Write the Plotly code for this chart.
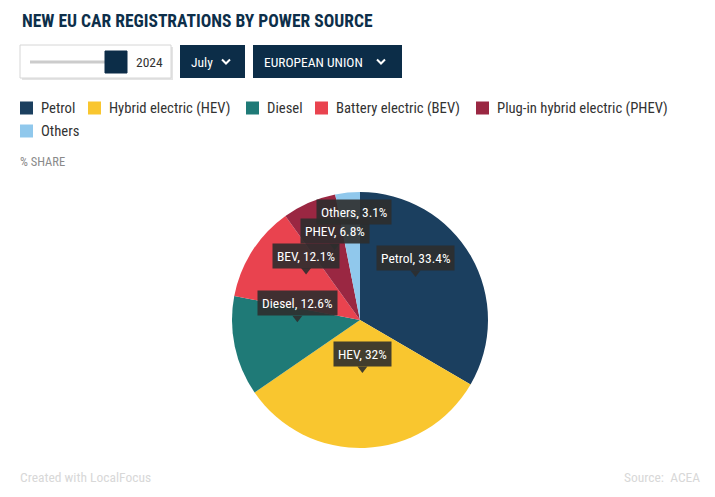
import math
import plotly.graph_objects as go

W, H = 715, 497

# ---- data ----
sources = ["Petrol", "Hybrid electric (HEV)", "Diesel", "Battery electric (BEV)",
           "Plug-in hybrid electric (PHEV)", "Others"]
short_names = ["Petrol", "HEV", "Diesel", "BEV", "PHEV", "Others"]
shares = [33.4, 32.0, 12.6, 12.1, 6.8, 3.1]
colors = ["#1b3f5f", "#f9c62f", "#1f7a77", "#e9434f", "#9a2742", "#90c8ec"]

year_label = "2024"
month_label = "July"
region_label = "EUROPEAN UNION"

FONT = "Roboto Condensed, Liberation Sans Narrow, Roboto, sans-serif"
NAVY = "#0c2d48"


def X(px):
    return px / W


def Y(py):
    return 1 - py / H


# pie geometry (pixels)
cx, cy, r = 360, 320, 128

fig = go.Figure()
fig.add_trace(go.Pie(
    labels=sources, values=shares, sort=False, direction="clockwise", rotation=0,
    marker=dict(colors=colors, line=dict(width=0)),
    textinfo="none", hoverinfo="label+percent", showlegend=False,
    domain=dict(x=[X(cx - r), X(cx + r)], y=[Y(cy + r), Y(cy - r)]),
))

shapes = []
annotations = []

# title
annotations.append(dict(x=X(20), y=Y(21), xref="paper", yref="paper", xanchor="left",
                        yanchor="middle", showarrow=False,
                        text="<b>NEW EU CAR REGISTRATIONS BY POWER SOURCE</b>",
                        font=dict(family=FONT, size=17.5, color="#0d2f4a")))

# slider control
shapes.append(dict(type="rect", xref="paper", yref="paper", x0=X(22), x1=X(173), y0=Y(80), y1=Y(47),
                   fillcolor="#e4e4e4", line=dict(width=0), layer="above"))
shapes.append(dict(type="rect", xref="paper", yref="paper", x0=X(20), x1=X(171), y0=Y(78), y1=Y(45),
                   fillcolor="white", line=dict(color="#d6d6d6", width=1), layer="above"))
shapes.append(dict(type="line", xref="paper", yref="paper", x0=X(30), x1=X(108), y0=Y(62), y1=Y(62),
                   line=dict(color="#cccccc", width=3), layer="above"))
shapes.append(dict(type="rect", xref="paper", yref="paper", x0=X(105), x1=X(127), y0=Y(73), y1=Y(51),
                   fillcolor=NAVY, line=dict(color=NAVY, width=1), layer="above"))
annotations.append(dict(x=X(134), y=Y(62), xref="paper", yref="paper", xanchor="left", yanchor="middle",
                        showarrow=False, text=year_label, font=dict(family=FONT, size=13.5, color="#333333")))

# dropdown buttons
for x0, x1, label, chev in [(180, 245, month_label, 226), (253, 402, region_label, 381)]:
    shapes.append(dict(type="rect", xref="paper", yref="paper", x0=X(x0), x1=X(x1), y0=Y(78), y1=Y(45),
                       fillcolor=NAVY, line=dict(width=0), layer="above"))
    annotations.append(dict(x=X(x0 + 9), y=Y(62), xref="paper", yref="paper", xanchor="left",
                            yanchor="middle", showarrow=False, text=label,
                            font=dict(family=FONT, size=13.5, color="white")))
    shapes.append(dict(type="path", xref="paper", yref="paper",
                       path=f"M {X(chev - 4)} {Y(59.5)} L {X(chev)} {Y(63.5)} L {X(chev + 4)} {Y(59.5)}",
                       line=dict(color="white", width=2), layer="above"))

# custom legend
legend_pos = [(20, 108), (88, 108), (246, 108), (315, 108), (476, 108), (20, 131)]
for (lx, ly), name, col in zip(legend_pos, sources, colors):
    shapes.append(dict(type="rect", xref="paper", yref="paper", x0=X(lx), x1=X(lx + 13),
                       y0=Y(ly + 6.5), y1=Y(ly - 6.5), fillcolor=col, line=dict(width=0), layer="above"))
    annotations.append(dict(x=X(lx + 19), y=Y(ly), xref="paper", yref="paper", xanchor="left",
                            yanchor="middle", showarrow=False, text=name,
                            font=dict(family=FONT, size=14.7, color="#333333")))

annotations.append(dict(x=X(18), y=Y(161), xref="paper", yref="paper", xanchor="left", yanchor="middle",
                        showarrow=False, text="% SHARE", font=dict(family=FONT, size=12.5, color="#8a8a8a")))

# data labels (tooltip style) computed from slice angles
label_nudge = {"Others": -14}
cum = 0.0
total = sum(shares)
for name, v in zip(short_names, shares):
    mid = (cum + v / 2) / total * 2 * math.pi
    cum += v
    px = cx + 0.5 * r * math.sin(mid)
    py = cy - 0.5 * r * math.cos(mid)
    dy = label_nudge.get(name, 0)
    tip = py - 11 + dy
    box_bottom = py - 17 + dy
    if name != "Others":
        shapes.append(dict(type="path", xref="paper", yref="paper",
                           path=f"M {X(px - 5)} {Y(box_bottom - 0.5)} L {X(px)} {Y(tip)} L {X(px + 5)} {Y(box_bottom - 0.5)} Z",
                           fillcolor="rgba(45,45,45,0.9)", line=dict(width=0), layer="above"))
    annotations.append(dict(x=X(px), y=Y(box_bottom), xref="paper", yref="paper", xanchor="center",
                            yanchor="bottom", showarrow=False, text=f"{name}, {v:g}%",
                            bgcolor="rgba(45,45,45,0.9)", borderpad=4,
                            font=dict(family=FONT, size=13.5, color="white")))

# footer
annotations.append(dict(x=X(18), y=Y(477), xref="paper", yref="paper", xanchor="left", yanchor="middle",
                        showarrow=False, text="Created with LocalFocus",
                        font=dict(family=FONT, size=13.5, color="#d8d8d8")))
annotations.append(dict(x=X(702), y=Y(477), xref="paper", yref="paper", xanchor="right", yanchor="middle",
                        showarrow=False, text="Source:  ACEA",
                        font=dict(family=FONT, size=13.5, color="#d8d8d8")))

fig.update_layout(
    width=W, height=H, margin=dict(l=0, r=0, t=0, b=0),
    paper_bgcolor="white", plot_bgcolor="white",
    shapes=shapes, annotations=annotations, showlegend=False,
    font=dict(family=FONT),
)

fig.write_html("out.html")
